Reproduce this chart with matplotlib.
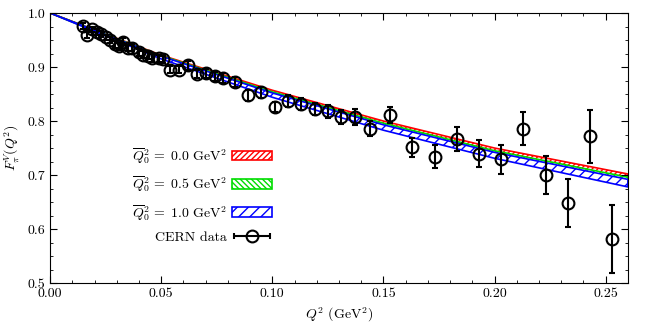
import numpy as np
import matplotlib
matplotlib.use("Agg")
import matplotlib.pyplot as plt
from matplotlib.patches import Patch
from matplotlib.legend_handler import HandlerErrorbar

plt.rcParams['font.family'] = ['cmr10', 'DejaVu Serif']
plt.rcParams['mathtext.fontset'] = 'cm'
plt.rcParams['axes.formatter.use_mathtext'] = True
plt.rcParams['font.size'] = 10

# CERN (NA7) data
q2_data = [0.015, 0.0165, 0.019, 0.021, 0.023, 0.025, 0.027, 0.029, 0.031,
           0.033, 0.035, 0.037, 0.040, 0.042, 0.044, 0.046, 0.049, 0.051,
           0.054, 0.058, 0.062, 0.066, 0.070, 0.074, 0.078, 0.083, 0.089,
           0.095, 0.101, 0.107, 0.113, 0.119, 0.125, 0.131, 0.137, 0.144,
           0.153, 0.163, 0.173, 0.183, 0.193, 0.203, 0.213, 0.223, 0.233,
           0.243, 0.253]
f_data = [0.976, 0.959, 0.970, 0.965, 0.961, 0.955, 0.950, 0.942, 0.938,
          0.947, 0.935, 0.936, 0.927, 0.923, 0.921, 0.917, 0.916, 0.914,
          0.895, 0.895, 0.903, 0.887, 0.888, 0.883, 0.879, 0.872, 0.848,
          0.853, 0.826, 0.837, 0.832, 0.823, 0.818, 0.808, 0.807, 0.786,
          0.811, 0.751, 0.734, 0.767, 0.739, 0.729, 0.786, 0.700, 0.648,
          0.772, 0.581]
f_err = [0.005, 0.005, 0.005, 0.005, 0.005, 0.005, 0.005, 0.006, 0.006,
         0.006, 0.006, 0.006, 0.006, 0.006, 0.007, 0.007, 0.007, 0.007,
         0.007, 0.007, 0.008, 0.008, 0.008, 0.008, 0.009, 0.009, 0.010,
         0.010, 0.010, 0.011, 0.011, 0.011, 0.012, 0.013, 0.015, 0.014,
         0.015, 0.017, 0.021, 0.0225, 0.025, 0.0275, 0.031, 0.036, 0.045,
         0.049, 0.063]

# bands, read at a few Q^2 points
q2_band = [0.0, 0.05, 0.10, 0.15, 0.20, 0.26]
red_lo = [1.0, 0.919, 0.851, 0.792, 0.741, 0.692]
red_hi = [1.0, 0.922, 0.857, 0.800, 0.750, 0.702]
green_lo = [1.0, 0.917, 0.847, 0.787, 0.735, 0.684]
green_hi = [1.0, 0.921, 0.854, 0.796, 0.745, 0.696]
blue_lo = [1.0, 0.915, 0.844, 0.783, 0.731, 0.678]
blue_hi = [1.0, 0.920, 0.852, 0.793, 0.742, 0.692]

band_labels = [r'$\overline{Q}_0^2\,{=}\;0.0\ \mathrm{GeV}^2$',
               r'$\overline{Q}_0^2\,{=}\;0.5\ \mathrm{GeV}^2$',
               r'$\overline{Q}_0^2\,{=}\;1.0\ \mathrm{GeV}^2$']
band_colors = ['#ff0000', '#00dd00', '#0000ff']
band_hatch = ['//////', '\\\\\\\\\\\\', '///']

fig = plt.figure(figsize=(6.5, 3.25), dpi=100)
ax = fig.add_axes([0.077, 0.129, 0.889, 0.831])

handles = []
bands = [(red_lo, red_hi), (green_lo, green_hi), (blue_lo, blue_hi)]
for (lo, hi), c, h, lab in zip(bands, band_colors, band_hatch, band_labels):
    ax.fill_between(q2_band, lo, hi, facecolor='white', edgecolor=c,
                    hatch=h, linewidth=1.2)
    handles.append(Patch(facecolor='white', edgecolor=c, hatch=h,
                         linewidth=1.2, label=lab))

style = dict(fmt='o', color='black', mfc='none', mec='black', ms=8.5,
             mew=1.5, elinewidth=1.5, capsize=2.5, capthick=1.5)
ax.errorbar(q2_data, f_data, yerr=f_err, **style)
# legend entry shows a horizontal bar
leg_eb = ax.errorbar([np.nan], [np.nan], xerr=[1.0], label='CERN data', **style)
handles.append(leg_eb)

ax.set_xlim(0, 0.26)
ax.set_ylim(0.5, 1.0)
ax.set_xticks(np.arange(0, 0.26, 0.05))
ax.set_xticks(np.arange(0, 0.261, 0.01), minor=True)
ax.set_yticks(np.arange(0.5, 1.01, 0.1))
ax.set_yticks(np.arange(0.5, 1.001, 0.025), minor=True)
ax.xaxis.set_major_formatter(plt.FormatStrFormatter('%.2f'))
ax.yaxis.set_major_formatter(plt.FormatStrFormatter('%.1f'))
ax.tick_params(which='both', direction='in', top=True, right=True)
ax.tick_params(which='major', length=5)
ax.tick_params(which='minor', length=2.5)

ax.set_xlabel(r'$Q^2$ (GeV$^2$)')
ax.set_ylabel(r'$F_\pi^V(Q^2)$')

ax.legend(handles=handles, loc='lower left', bbox_to_anchor=(0.12, 0.1),
          frameon=False, markerfirst=False, handlelength=2.9,
          handletextpad=0.4, labelspacing=0.6, fontsize=10,
          handler_map={type(leg_eb): HandlerErrorbar(xerr_size=1.3)})

fig.savefig('out.png', dpi=100)
